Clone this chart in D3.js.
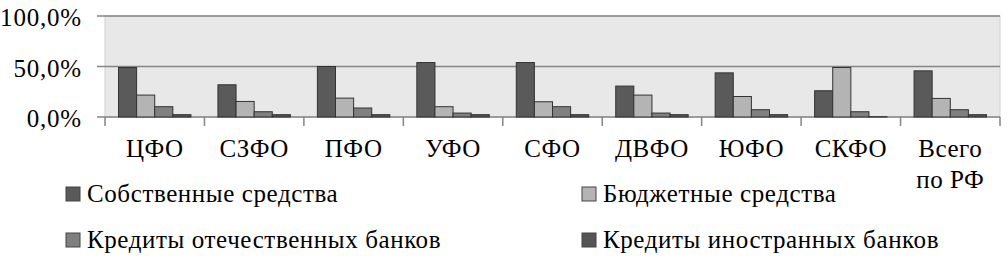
<!DOCTYPE html>
<html>
<head>
<meta charset="utf-8">
<script src="https://cdn.jsdelivr.net/npm/d3@7"></script>
<style>
  body { margin: 0; background: #fff; }
</style>
</head>
<body>
<svg id="chart" width="1007" height="257"></svg>
<script>
// categories and series (shares, %)
const regions = ['ЦФО', 'СЗФО', 'ПФО', 'УФО', 'СФО', 'ДВФО', 'ЮФО', 'СКФО', 'Всего|по РФ'];
const seriesNames = ['Собственные средства', 'Бюджетные средства', 'Кредиты отечественных банков', 'Кредиты иностранных банков'];
const ownFunds     = [49.0, 31.9, 50.0, 53.9, 53.9, 30.6, 43.7, 26.0, 45.7];
const budgetFunds  = [21.7, 15.4, 18.7, 10.2, 15.1, 21.7, 20.3, 49.0, 18.4];
const domesticBank = [10.2, 5.2, 8.9, 3.9, 10.2, 3.9, 7.2, 5.2, 7.2];
const foreignBank  = [2.3, 2.3, 2.3, 2.3, 2.3, 2.3, 2.3, 0.3, 2.3];
const yTicks = [0, 50, 100];
const colors = ['#5a5a5a', '#b4b4b4', '#808080', '#545454'];

const values = [ownFunds, budgetFunds, domesticBank, foreignBank];
const serif = "'Liberation Serif', 'DejaVu Serif', 'Times New Roman', serif";

const svg = d3.select('#chart')
  .attr('font-family', serif);
const plotLeft = 105, plotRight = 1000, plotTop = 16, plotBottom = 117;

const x0 = d3.scaleBand().domain(regions).range([plotLeft, plotRight]);
const x1 = d3.scaleBand().domain(d3.range(seriesNames.length))
  .range([13.5, x0.bandwidth() - 13.5]);
const y = d3.scaleLinear().domain([0, 100]).range([plotBottom, plotTop]);

// plot background
svg.append('rect')
  .attr('x', plotLeft).attr('y', plotTop)
  .attr('width', plotRight - plotLeft).attr('height', plotBottom - plotTop)
  .attr('fill', '#e8e8e8')
  .attr('stroke', '#d0d0d0');

// gridlines + y labels
svg.append('g').selectAll('line')
  .data(yTicks)
  .enter().append('line')
  .attr('x1', plotLeft - 8).attr('x2', plotRight)
  .attr('y1', d => y(d)).attr('y2', d => y(d))
  .attr('stroke', '#858585')
  .attr('stroke-width', 1.5);

svg.append('g').selectAll('text')
  .data(yTicks)
  .enter().append('text')
  .attr('x', 82)
  .attr('y', d => y(d) + 10)
  .attr('text-anchor', 'end')
  .attr('font-family', serif)
  .attr('font-size', 25)
  .attr('letter-spacing', 0.8)
  .attr('fill', '#000')
  .text(d => d.toFixed(1).replace('.', ',') + '%');

// bars
regions.forEach((r, i) => {
  const g = svg.append('g').attr('transform', `translate(${x0(r)},0)`);
  g.selectAll('rect')
    .data(values.map(v => v[i]))
    .enter().append('rect')
    .attr('x', (d, k) => x1(k))
    .attr('y', d => y(d))
    .attr('width', x1.bandwidth())
    .attr('height', d => plotBottom - y(d))
    .attr('fill', (d, k) => colors[k])
    .attr('stroke', '#333')
    .attr('stroke-width', 1);
});

// x axis ticks
const tickXs = regions.map(r => x0(r)).concat([plotRight]);
svg.append('g').selectAll('line')
  .data(tickXs)
  .enter().append('line')
  .attr('x1', d => d).attr('x2', d => d)
  .attr('y1', plotBottom).attr('y2', plotBottom + 9)
  .attr('stroke', '#858585')
  .attr('stroke-width', 1.5);

// category labels
const labels = svg.append('g').selectAll('text')
  .data(regions)
  .enter().append('text')
  .attr('x', d => x0(d) + x0.bandwidth() / 2)
  .attr('y', 157)
  .attr('text-anchor', 'middle')
  .attr('font-family', serif)
  .attr('font-size', 25)
  .attr('letter-spacing', 0.5)
  .attr('fill', '#000');
labels.each(function (d) {
  const parts = d.split('|');
  const t = d3.select(this);
  parts.forEach((p, k) => {
    t.append('tspan')
      .attr('x', x0(d) + x0.bandwidth() / 2)
      .attr('dy', k === 0 ? 0 : 31)
      .text(p);
  });
});

// legend
const legendPos = [[66, 202], [582, 202], [66, 248], [582, 248]];
const legend = svg.append('g').selectAll('g')
  .data(seriesNames)
  .enter().append('g')
  .attr('transform', (d, i) => `translate(${legendPos[i][0]},${legendPos[i][1]})`);
legend.append('rect')
  .attr('x', 0).attr('y', -15)
  .attr('width', 14).attr('height', 14)
  .attr('fill', (d, i) => colors[i])
  .attr('stroke', '#444');
legend.append('text')
  .attr('x', 21).attr('y', 0)
  .attr('font-family', serif)
  .attr('font-size', 25)
  .attr('letter-spacing', 0.6)
  .attr('fill', '#000')
  .text(d => d);
</script>
</body>
</html>
